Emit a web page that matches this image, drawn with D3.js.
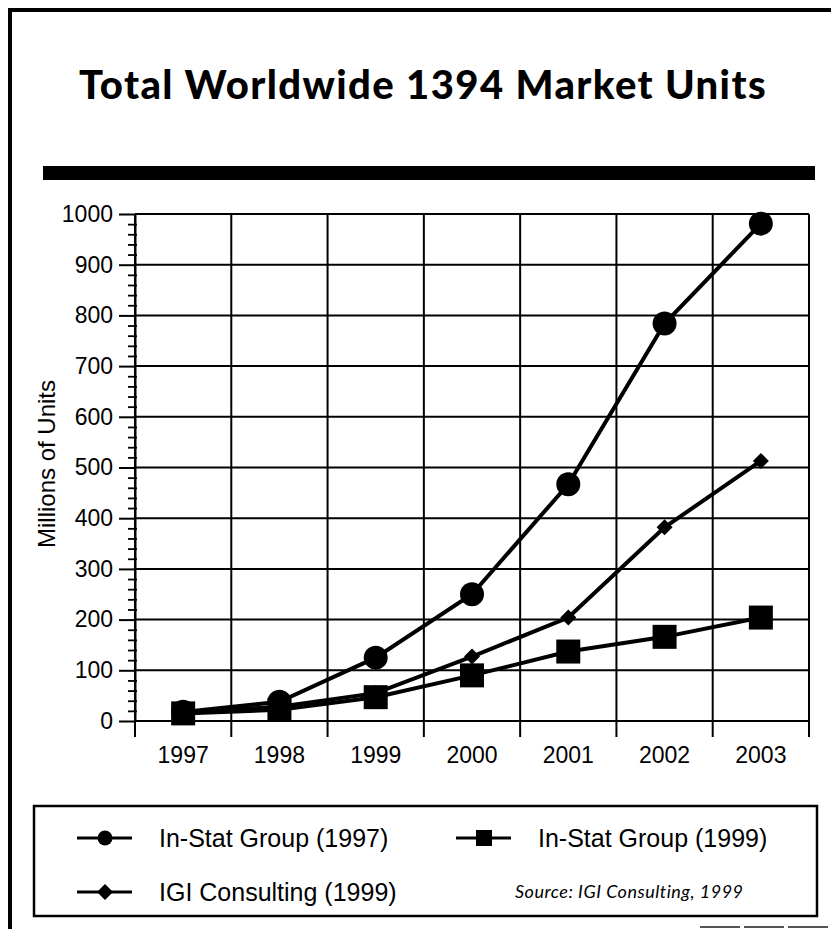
<!DOCTYPE html>
<html>
<head>
<meta charset="utf-8">
<script src="https://cdn.jsdelivr.net/npm/d3@7"></script>
<style>
  body { margin: 0; background: #fff; }
  svg { display: block; }
</style>
</head>
<body>
<div id="chart"></div>
<script>
// data (millions of units)
let years = ["1997", "1998", "1999", "2000", "2001", "2002", "2003"];
let instat97 = [18, 38, 125, 250, 467, 784, 981];
let instat99 = [15, 22, 47, 90, 137, 166, 204];
let igi99 = [18, 28, 55, 127, 204, 382, 513];
let yTicks = [0, 100, 200, 300, 400, 500, 600, 700, 800, 900, 1000];

let width = 831, height = 929;
let pLeft = 135, pRight = 809, pTop = 214, pBottom = 721;
let sans = "Liberation Sans, Arial, sans-serif";

let svg = d3.select("#chart").append("svg")
    .attr("width", width)
    .attr("height", height);

// outer frame of the page
svg.append("path")
    .attr("d", `M10,929 L10,10 L831,10`)
    .attr("fill", "none")
    .attr("stroke", "black")
    .attr("stroke-width", 4);
svg.append("line")
    .attr("x1", 700).attr("x2", 831).attr("y1", 927).attr("y2", 927)
    .attr("stroke", "#555").attr("stroke-width", 2)
    .attr("stroke-dasharray", "40,4");

// title + black bar
svg.append("text")
    .text("Total Worldwide 1394 Market Units")
    .attr("x", 423)
    .attr("y", 99)
    .attr("text-anchor", "middle")
    .attr("font-family", "Lato")
    .attr("font-weight", 900)
    .attr("font-size", 40)
    .attr("letter-spacing", 1.4)
    .attr("fill", "black");

svg.append("rect")
    .attr("x", 43).attr("y", 166)
    .attr("width", 772).attr("height", 14)
    .attr("fill", "black");

let x = d3.scaleBand().domain(years).range([pLeft, pRight]).padding(0);
let y = d3.scaleLinear().domain([0, 1000]).range([pBottom, pTop]);

let g = svg.append("g");

// grid
g.selectAll(".hgrid").data(yTicks).enter()
    .append("line")
    .attr("class", "hgrid")
    .attr("x1", pLeft).attr("x2", pRight)
    .attr("y1", d => y(d)).attr("y2", d => y(d))
    .attr("stroke", "black").attr("stroke-width", 2);

let bounds = years.map(d => x(d)).concat([pRight]);
g.selectAll(".vgrid").data(bounds).enter()
    .append("line")
    .attr("class", "vgrid")
    .attr("x1", d => d).attr("x2", d => d)
    .attr("y1", pTop).attr("y2", pBottom + 16)
    .attr("stroke", "black").attr("stroke-width", 2);

// y axis: major ticks + labels
let yAxis = d3.axisLeft(y).tickValues(yTicks).tickSize(16).tickSizeOuter(0)
    .tickPadding(6).tickFormat(d3.format("d"));
let ya = svg.append("g")
    .attr("transform", `translate(${pLeft},0)`)
    .call(yAxis);
ya.select(".domain").attr("stroke-width", 2);
ya.selectAll(".tick line").attr("stroke-width", 2);
ya.selectAll("text")
    .style("font-family", sans)
    .style("font-size", "23px")
    .attr("fill", "black");

// minor ticks every 20
let minor = d3.range(0, 1001, 20).filter(d => d % 100 != 0);
svg.append("g")
    .attr("transform", `translate(${pLeft + 2},0)`)
    .call(d3.axisLeft(y).tickValues(minor).tickSize(9).tickSizeOuter(0).tickFormat(""))
    .call(a => a.select(".domain").remove())
    .selectAll(".tick line").attr("stroke-width", 1.8);

// x labels
svg.selectAll(".xlab").data(years).enter()
    .append("text")
    .text(d => d)
    .attr("x", d => x(d) + x.bandwidth() / 2)
    .attr("y", 763)
    .attr("text-anchor", "middle")
    .style("font-family", sans)
    .style("font-size", "23px")
    .attr("fill", "black");

// y title
svg.append("text")
    .text("Millions of Units")
    .attr("transform", "translate(55,464) rotate(-90)")
    .attr("text-anchor", "middle")
    .style("font-family", sans)
    .style("font-size", "24px")
    .attr("fill", "black");

let cx = d => x(d) + x.bandwidth() / 2;
let line = d3.line().x((d, i) => cx(years[i])).y(d => y(d));

// In-Stat Group (1997) - circles
g.append("path").datum(instat97)
    .attr("d", line).attr("fill", "none")
    .attr("stroke", "black").attr("stroke-width", 4);
g.selectAll(".circ").data(instat97).enter()
    .append("circle")
    .attr("cx", (d, i) => cx(years[i]))
    .attr("cy", d => y(d))
    .attr("r", 12)
    .attr("fill", "black");

// IGI Consulting (1999) - diamonds
let diamond = s => `M0,${-s} L${s},0 L0,${s} L${-s},0 Z`;
g.append("path").datum(igi99)
    .attr("d", line).attr("fill", "none")
    .attr("stroke", "black").attr("stroke-width", 4);
g.selectAll(".dia").data(igi99).enter()
    .append("path")
    .attr("d", diamond(8))
    .attr("transform", (d, i) => `translate(${cx(years[i])},${y(d)})`)
    .attr("fill", "black");

// In-Stat Group (1999) - squares
g.append("path").datum(instat99)
    .attr("d", line).attr("fill", "none")
    .attr("stroke", "black").attr("stroke-width", 4);
g.selectAll(".sq").data(instat99).enter()
    .append("rect")
    .attr("x", (d, i) => cx(years[i]) - 12)
    .attr("y", d => y(d) - 12)
    .attr("width", 24).attr("height", 24)
    .attr("fill", "black");

// legend
svg.append("rect")
    .attr("x", 34).attr("y", 806)
    .attr("width", 783).attr("height", 110)
    .attr("fill", "none")
    .attr("stroke", "black").attr("stroke-width", 2.5);

let legend = [
    {name: "In-Stat Group (1997)", shape: "circle", x: 77, y: 838},
    {name: "In-Stat Group (1999)", shape: "square", x: 456, y: 838},
    {name: "IGI Consulting (1999)", shape: "diamond", x: 77, y: 892}
];
let lg = svg.selectAll(".leg").data(legend).enter()
    .append("g")
    .attr("transform", d => `translate(${d.x},${d.y})`);
lg.append("line")
    .attr("x1", 0).attr("x2", 55)
    .attr("stroke", "black").attr("stroke-width", 3);
lg.each(function (d) {
    let s = d3.select(this);
    if (d.shape == "circle") s.append("circle").attr("cx", 28).attr("r", 7.5).attr("fill", "black");
    if (d.shape == "square") s.append("rect").attr("x", 20).attr("y", -8).attr("width", 16).attr("height", 16).attr("fill", "black");
    if (d.shape == "diamond") s.append("path").attr("d", diamond(8)).attr("transform", "translate(28,0)").attr("fill", "black");
});
lg.append("text")
    .text(d => d.name)
    .attr("x", 82)
    .attr("y", 9)
    .style("font-family", sans)
    .style("font-size", "25px")
    .attr("fill", "black");

svg.append("text")
    .text("Source: IGI Consulting, 1999")
    .attr("x", 515)
    .attr("y", 898)
    .attr("font-family", "Lato")
    .attr("font-style", "italic")
    .attr("font-size", 18)
    .attr("letter-spacing", 0.5)
    .attr("fill", "black");
</script>
</body>
</html>
